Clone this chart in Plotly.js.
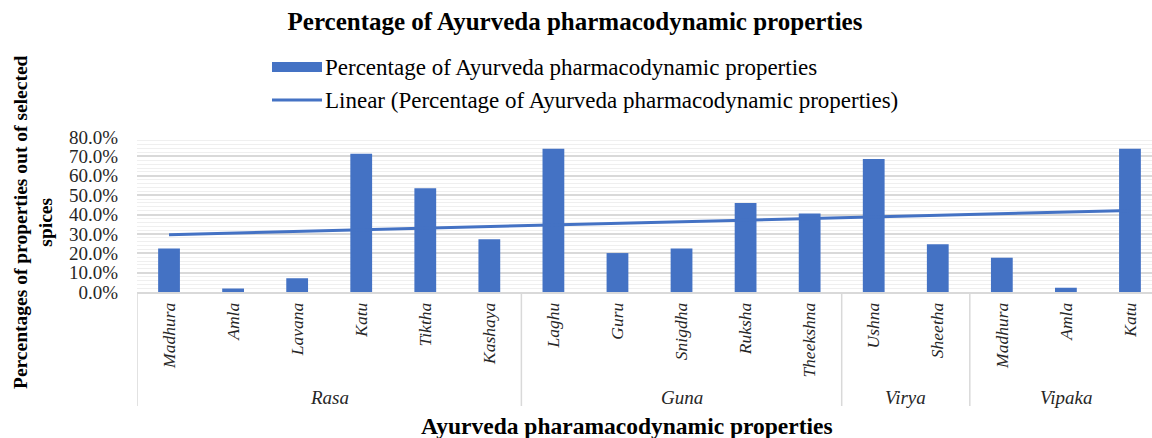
<!DOCTYPE html>
<html>
<head>
<meta charset="utf-8">
<script src="https://cdn.plot.ly/plotly-3.0.1.min.js"></script>
<style>
html,body{margin:0;padding:0;overflow:hidden;background:#fff;width:1152px;height:438px;}
#chart{width:1175px;height:438px;}
</style>
</head>
<body>
<div id="chart"></div>
<script>
// ---- data ----
const categories = ['Madhura','Amla','Lavana','Katu','Tiktha','Kashaya',
                    'Laghu','Guru','Snigdha','Ruksha','Theekshna',
                    'Ushna','Sheetha',
                    'Madhura','Amla','Katu'];
const groups = ['Rasa','Rasa','Rasa','Rasa','Rasa','Rasa',
                'Guna','Guna','Guna','Guna','Guna',
                'Virya','Virya',
                'Vipaka','Vipaka','Vipaka'];
const percentages = [0.224, 0.018, 0.071, 0.714, 0.535, 0.272,
                     0.740, 0.201, 0.224, 0.459, 0.405,
                     0.686, 0.246,
                     0.177, 0.022, 0.740];
const seriesName = 'Percentage of Ayurveda pharmacodynamic properties';
const trendName = 'Linear (Percentage of Ayurveda pharmacodynamic properties)';
const yTickVals = [0,0.1,0.2,0.3,0.4,0.5,0.6,0.7,0.8];

// ---- derived ----
const idx = categories.map((c,i)=>i);
// least-squares linear trendline of the series
const n = percentages.length;
const mx = idx.reduce((a,b)=>a+b,0)/n;
const my = percentages.reduce((a,b)=>a+b,0)/n;
let sxy=0, sxx=0;
idx.forEach((x,i)=>{sxy+=(x-mx)*(percentages[i]-my); sxx+=(x-mx)*(x-mx);});
const slope = sxy/sxx, intercept = my - slope*mx;
const trend = idx.map(x=>intercept+slope*x);

// group spans
const spans = [];
groups.forEach((g,i)=>{
  if(!spans.length || spans[spans.length-1].name!==g) spans.push({name:g,start:i,end:i});
  else spans[spans.length-1].end=i;
});

// pixel helpers for the frame
const W=1175, H=438, PL=137, PR=1162, PT=137, PB=292;
const xp = px => (px-PL)/(PR-PL);
const yp = py => (PB-py)/(PB-PT);

const serif = '"Liberation Serif", "Times New Roman", serif';
const blue = '#4472C4';

const traces = [
  {type:'bar', x:idx, y:percentages, name:seriesName, marker:{color:blue}, showlegend:false,
   hovertemplate:'%{y:.1%}<extra></extra>'},
  {type:'scatter', mode:'lines', x:idx, y:trend, name:trendName, line:{color:blue,width:3}, showlegend:false,
   hoverinfo:'skip'}
];

const shapes = [];
const annotations = [];
// group separators
const bounds = [ -0.5 ].concat(spans.map(s=>s.end+0.5));
bounds.forEach(b=>{
  shapes.push({type:'line', xref:'x', yref:'paper', x0:b, x1:b, y0:0, y1:yp(406),
               line:{color:'#d9d9d9', width:1.5}});
});
spans.forEach(s=>{
  annotations.push({xref:'x', yref:'paper', x:(s.start+s.end)/2, y:yp(397), text:s.name,
    showarrow:false, xanchor:'center', yanchor:'middle',
    font:{family:serif, size:19, style:'italic', color:'#262626'}});
});
// legend (drawn manually)
shapes.push({type:'rect', xref:'paper', yref:'paper', x0:xp(272), x1:xp(322), y0:yp(62), y1:yp(72),
             fillcolor:blue, line:{width:0}});
shapes.push({type:'line', xref:'paper', yref:'paper', x0:xp(272), x1:xp(322), y0:yp(100), y1:yp(100),
             line:{color:blue, width:3}});
annotations.push({xref:'paper', yref:'paper', x:xp(323), y:yp(67), text:seriesName, showarrow:false,
  xanchor:'left', yanchor:'middle', font:{family:serif, size:23, color:'#000'}});
annotations.push({xref:'paper', yref:'paper', x:xp(323), y:yp(100), text:trendName, showarrow:false,
  xanchor:'left', yanchor:'middle', font:{family:serif, size:23, color:'#000'}});
// axis titles
annotations.push({xref:'paper', yref:'paper', x:xp(33), y:yp(222), textangle:-90,
  text:'<b>Percentages of properties out of selected</b><br><b>spices</b>', showarrow:false,
  xanchor:'center', yanchor:'middle', font:{family:serif, size:19.5, color:'#000'}});
annotations.push({xref:'paper', yref:'paper', x:xp(627), y:yp(426), 
  text:'<b>Ayurveda pharamacodynamic properties</b>', showarrow:false,
  xanchor:'center', yanchor:'middle', font:{family:serif, size:23.5, color:'#000'}});

const layout = {
  width:W, height:H,
  margin:{l:PL, r:W-PR, t:PT, b:H-PB, pad:0},
  paper_bgcolor:'#fff', plot_bgcolor:'#fff',
  title:{text:'<b>Percentage of Ayurveda pharmacodynamic properties</b>', x:575/W, xanchor:'center',
         y:1-21/H, yanchor:'middle', font:{family:serif, size:25, color:'#000'}},
  bargap:0.66,
  showlegend:false,
  xaxis:{range:[-0.5,15.5], tickmode:'array', tickvals:idx, ticktext:categories, tickangle:-90,
         showgrid:false, zeroline:false, showline:true, linecolor:'#d9d9d9', linewidth:1.5,
         ticks:'outside', ticklen:2, tickcolor:'rgba(0,0,0,0)',
         tickfont:{family:serif, size:17.5, style:'italic', color:'#262626'}, fixedrange:true},
  yaxis:{range:[0,0.8], tickmode:'array', tickvals:yTickVals, tickformat:'.1%',
         showgrid:true, gridcolor:'#d9d9d9', gridwidth:1.5, zeroline:false, showline:false,
         minor:{dtick:0.02, showgrid:true, gridcolor:'#efefef', gridwidth:1},
         ticks:'outside', ticklen:14, tickcolor:'rgba(0,0,0,0)',
         tickfont:{family:serif, size:19, color:'#262626'}, fixedrange:true},
  shapes:shapes, annotations:annotations
};
Plotly.newPlot('chart', traces, layout, {displayModeBar:false, responsive:false});
</script>
</body>
</html>
